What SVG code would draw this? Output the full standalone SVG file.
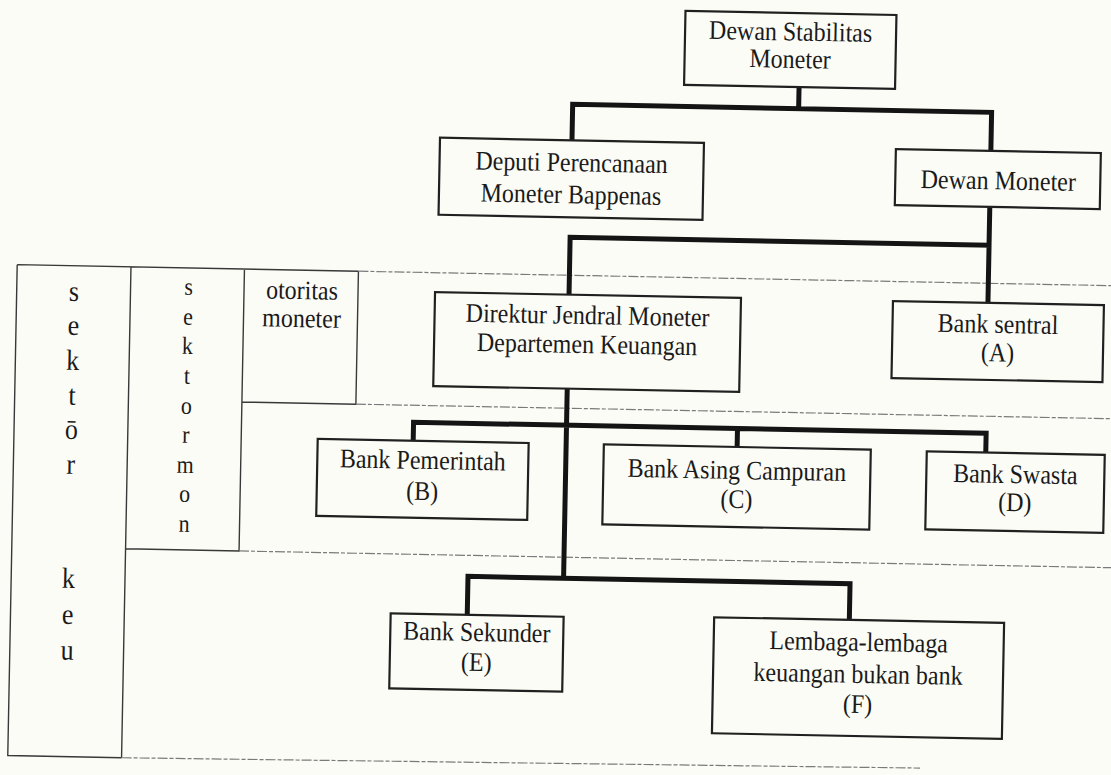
<svg xmlns="http://www.w3.org/2000/svg" width="1111" height="775" viewBox="0 0 1111 775">
<style>
  .box { fill: none; stroke: #202020; stroke-width: 2.2; }
  .conn { fill: none; stroke: #141414; stroke-width: 5; stroke-linejoin: miter; }
  .grid { fill: none; stroke: #383838; stroke-width: 1.4; }
  .gridx { fill: none; stroke: #7a7a7a; stroke-width: 1.2; stroke-dasharray: 10 2 4 2; }
  text { font-family: "Liberation Serif", "Times New Roman", serif; font-size: 24px; fill: #1a1a1a; text-anchor: middle;
         transform-box: fill-box; transform-origin: center; transform: scaleY(1.12); }
  .v1 { font-size: 26px; }
  .v2 { font-size: 22px; }
</style>
<rect x="0" y="0" width="1111" height="775" fill="#fcfcf6"/>
<g transform="rotate(1.1 555 400)">
  <g id="grid">
    <path class="grid" d="M14.7 275 H356 M14.7 275 V766 H128.5 M128.5 275 V766 M242 275 V557 H128.5 M356 275 V408 H242"/>
    <path class="gridx" d="M356 275 H1140 M356 408 H1140 M242 557 H1140 M128.5 766 L927 761"/>
    <g id="label-sektor-keu">
      <text class="v1" x="72" y="309">s</text>
      <text class="v1" x="72" y="343">e</text>
      <text class="v1" x="72" y="378">k</text>
      <text class="v1" x="72" y="413">t</text>
      <text class="v1" x="72" y="447">ō</text>
      <text class="v1" x="72" y="482">r</text>
      <text class="v1" x="72" y="596">k</text>
      <text class="v1" x="72" y="632">e</text>
      <text class="v1" x="72" y="668">u</text>
    </g>
    <g id="label-sektor-mon">
      <text class="v2" x="186.5" y="301">s</text>
      <text class="v2" x="186.5" y="331">e</text>
      <text class="v2" x="186.5" y="360">k</text>
      <text class="v2" x="186.5" y="390">t</text>
      <text class="v2" x="186.5" y="420">o</text>
      <text class="v2" x="186.5" y="449">r</text>
      <text class="v2" x="186.5" y="479">m</text>
      <text class="v2" x="186.5" y="508">o</text>
      <text class="v2" x="186.5" y="538">n</text>
    </g>
    <g id="label-otoritas">
      <text x="300" y="303">otoritas</text>
      <text x="300" y="331">moneter</text>
    </g>
  </g>
  <g id="connectors">
    <path class="conn" d="M793 82.5 V104 M567 140 V104 H986 V142.6"/>
    <path class="conn" d="M986 198.6 V237 H567 V294.4 M986 237 V294.6"/>
    <path class="conn" d="M567 388.4 V578 M414 443.5 V425 H986.7 V444.3 M738 425 V443.5"/>
    <path class="conn" d="M471.4 616.5 V578 H853.5 V614.2"/>
  </g>
  <g id="dewan-stabilitas">
    <rect class="box" x="678" y="8.5" width="211" height="74"/>
    <text x="783.5" y="35">Dewan Stabilitas</text>
    <text x="783.5" y="62.5">Moneter</text>
  </g>
  <g id="deputi">
    <rect class="box" x="435" y="140" width="264" height="77"/>
    <text x="567" y="170">Deputi Perencanaan</text>
    <text x="567" y="202">Moneter Bappenas</text>
  </g>
  <g id="dewan-moneter">
    <rect class="box" x="891" y="142.6" width="205" height="56"/>
    <text x="994" y="180">Dewan Moneter</text>
  </g>
  <g id="direktur">
    <rect class="box" x="433" y="294.4" width="306" height="94"/>
    <text x="586" y="322.5">Direktur  Jendral Moneter</text>
    <text x="586" y="351.5">Departemen Keuangan</text>
  </g>
  <g id="bank-sentral">
    <rect class="box" x="891" y="294.6" width="211" height="77"/>
    <text x="996.5" y="323.5">Bank sentral</text>
    <text x="996.5" y="352">(A)</text>
  </g>
  <g id="bank-pemerintah">
    <rect class="box" x="318.5" y="443.5" width="211" height="77"/>
    <text x="424" y="470.5">Bank Pemerintah</text>
    <text x="424" y="501.5">(B)</text>
  </g>
  <g id="bank-asing">
    <rect class="box" x="604.7" y="443.5" width="267" height="80"/>
    <text x="738.2" y="474.5">Bank Asing Campuran</text>
    <text x="738.2" y="503.5">(C)</text>
  </g>
  <g id="bank-swasta">
    <rect class="box" x="927.7" y="444.3" width="178" height="78"/>
    <text x="1016.7" y="473.3">Bank Swasta</text>
    <text x="1016.7" y="501.3">(D)</text>
  </g>
  <g id="bank-sekunder">
    <rect class="box" x="394.8" y="616.5" width="173" height="75"/>
    <text x="481.3" y="641.5">Bank Sekunder</text>
    <text x="481.3" y="671.5">(E)</text>
  </g>
  <g id="lembaga">
    <rect class="box" x="718.3" y="614.2" width="290" height="116"/>
    <text x="863.3" y="644">Lembaga-lembaga</text>
    <text x="863.3" y="676">keuangan bukan bank</text>
    <text x="863.3" y="706">(F)</text>
  </g>
</g>
</svg>
